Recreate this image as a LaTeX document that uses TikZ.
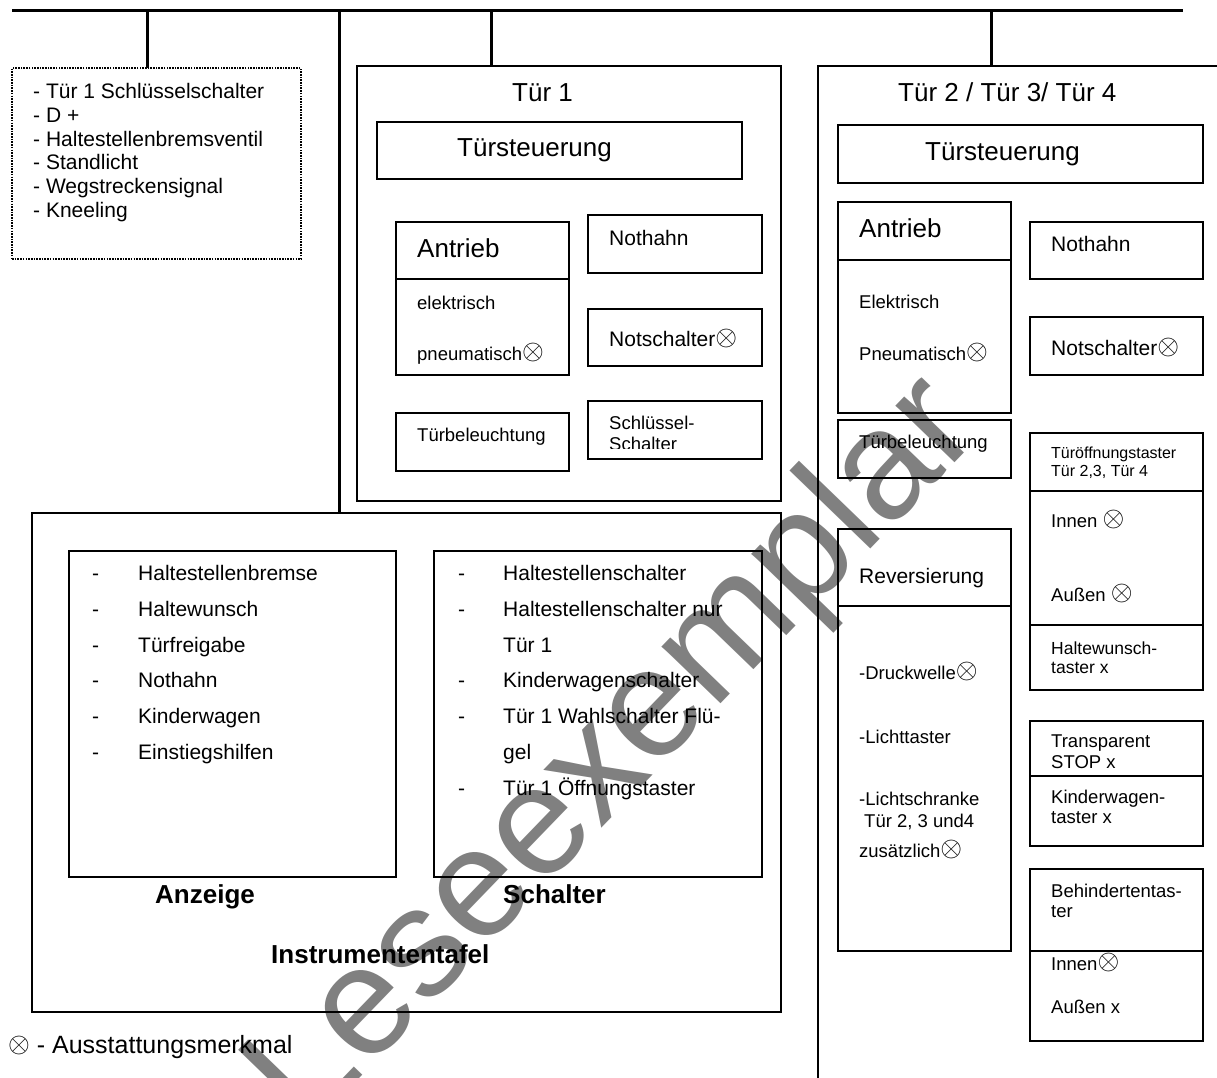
\documentclass[tikz,border=0pt]{standalone}
\usepackage{fontspec}
\setmainfont{Liberation Sans}

\newcommand{\fsBig}{\fontsize{26}{30}\selectfont}
\newcommand{\fsMid}{\fontsize{21}{24}\selectfont}
\newcommand{\fsSmall}{\fontsize{18.5}{21}\selectfont}
\newcommand{\fsTiny}{\fontsize{16}{18}\selectfont}
\newcommand{\xot}{\raisebox{0.8pt}{\scalebox{2.8}{\normalsize$\otimes$}}}

\begin{document}
\begin{tikzpicture}[x=1pt,y=-1pt]
\tikzset{box/.style=
            {draw, line width=1.7pt, inner sep=0pt, outer sep=0pt, anchor=north west},
         frame/.style=
            {draw, line width=1.5pt, inner sep=0pt, outer sep=0pt, anchor=north west},
         dotbox/.style=
            {draw, line width=1.5pt, dash pattern=on 1.6pt off 1.1pt, inner sep=0pt, outer sep=0pt, anchor=north west},
         txt/.style=
            {anchor=base west, inner sep=0pt},
         bus/.style={line width=3.5pt},
         drop/.style={line width=3pt},
         wmark/.style=
            {anchor=base, inner sep=0pt, rotate=46, text=black!50, font=\fontsize{155}{155}\selectfont}}
\useasboundingbox (0,0) rectangle (1217,1077);

% watermark
\node[wmark] (wm) at (645,783) {Leseexemplar};

% bus and drops
\coordinate (busL) at (12,10.5);
\coordinate (busR) at (1183,10.5);
\coordinate (d1) at (147,10.5);
\coordinate (d2) at (339,10.5);
\coordinate (d3) at (491,10.5);
\coordinate (d4) at (991,10.5);

% extra signals
\node[dotbox, minimum width=289pt, minimum height=191pt] (extra) at (12,68) {};
\node[txt, font=\fsMid] (ex1) at (33,98) {- Tür 1 Schlüsselschalter};
\node[txt, font=\fsMid] (ex2) at (33,122) {- D +};
\node[txt, font=\fsMid] (ex3) at (33,146) {- Haltestellenbremsventil};
\node[txt, font=\fsMid] (ex4) at (33,169) {- Standlicht};
\node[txt, font=\fsMid] (ex5) at (33,193) {- Wegstreckensignal};
\node[txt, font=\fsMid] (ex6) at (33,217) {- Kneeling};

% Tuer 1
\node[frame, minimum width=424pt, minimum height=435pt] (tuerA) at (357,66) {};
\node[txt, font=\fsBig] (tuerAt) at (512,101) {Tür 1};
\node[box, minimum width=365pt, minimum height=57pt] (tsA) at (377,122) {};
\node[txt, font=\fsBig] (tsAt) at (457,156) {Türsteuerung};
\node[box, minimum width=173pt, minimum height=57pt] (antA) at (396,222) {};
\node[box, minimum width=173pt, minimum height=96pt] (antAb) at (396,279) {};
\node[txt, font=\fsBig] (antAt) at (417,257) {Antrieb};
\node[txt, font=\fsSmall] (antA1) at (417,309) {elektrisch};
\node[txt, font=\fsSmall] (antA2) at (417,360) {pneumatisch\xot};
\node[box, minimum width=174pt, minimum height=58pt] (notA) at (588,215) {};
\node[txt, font=\fsMid] (notAt) at (609,245) {Nothahn};
\node[box, minimum width=174pt, minimum height=57pt] (nsA) at (588,309) {};
\node[txt, font=\fsMid] (nsAt) at (609,346) {Notschalter\xot};
\node[box, minimum width=173pt, minimum height=58pt] (tbA) at (396,413) {};
\node[txt, font=\fsSmall] (tbAt) at (417,441) {Türbeleuchtung};
\node[box, minimum width=174pt, minimum height=58pt] (ssA) at (588,401) {};
\node[txt, font=\fsSmall] (ssA1) at (609,429) {Schlüssel-};
\begin{scope}
\clip (588,401) rectangle (762,448);
\node[txt, font=\fsSmall] (ssA2) at (609,450) {Schalter};
\end{scope}

% Tuer 2 / 3 / 4
\node[frame, minimum width=450pt, minimum height=1100pt] (tuerB) at (818,66) {};
\node[txt, font=\fsBig] (tuerBt) at (898,101) {Tür 2 / Tür 3/ Tür 4};
\node[box, minimum width=365pt, minimum height=58pt] (tsB) at (838,125) {};
\node[txt, font=\fsBig] (tsBt) at (925,160) {Türsteuerung};
\node[box, minimum width=173pt, minimum height=58pt] (antB) at (838,202) {};
\node[box, minimum width=173pt, minimum height=153pt] (antBb) at (838,260) {};
\node[txt, font=\fsBig] (antBt) at (859,237) {Antrieb};
\node[txt, font=\fsSmall] (antB1) at (859,308) {Elektrisch};
\node[txt, font=\fsSmall] (antB2) at (859,360) {Pneumatisch\xot};
\node[box, minimum width=173pt, minimum height=57pt] (notB) at (1030,222) {};
\node[txt, font=\fsMid] (notBt) at (1051,251) {Nothahn};
\node[box, minimum width=173pt, minimum height=58pt] (nsB) at (1030,317) {};
\node[txt, font=\fsMid] (nsBt) at (1051,355) {Notschalter\xot};
\node[box, minimum width=173pt, minimum height=58pt] (tbB) at (838,420) {};
\node[txt, font=\fsSmall] (tbBt) at (859,448) {Türbeleuchtung};
\node[box, minimum width=173pt, minimum height=58pt] (toB) at (1030,433) {};
\node[box, minimum width=173pt, minimum height=134pt] (toBb) at (1030,491) {};
\node[txt, font=\fsTiny] (toB1) at (1051,458) {Türöffnungstaster};
\node[txt, font=\fsTiny] (toB2) at (1051,476) {Tür 2,3, Tür 4};
\node[txt, font=\fsSmall] (toB3) at (1051,527) {Innen \xot};
\node[txt, font=\fsSmall] (toB4) at (1051,601) {Außen \xot};
\node[box, minimum width=173pt, minimum height=65pt] (hwB) at (1030,625) {};
\node[txt, font=\fontsize{17.5}{20}\selectfont] (hwB1) at (1051,654) {Haltewunsch-};
\node[txt, font=\fontsize{17.5}{20}\selectfont] (hwB2) at (1051,673) {taster x};
\node[box, minimum width=173pt, minimum height=77pt] (revB) at (838,529) {};
\node[box, minimum width=173pt, minimum height=345pt] (revBb) at (838,606) {};
\node[txt, font=\fsMid] (revBt) at (859,583) {Reversierung};
\node[txt, font=\fsSmall] (revB1) at (859,679) {-Druckwelle\xot};
\node[txt, font=\fsSmall] (revB2) at (859,743) {-Lichttaster};
\node[txt, font=\fsSmall] (revB3) at (859,805) {-Lichtschranke};
\node[txt, font=\fsSmall] (revB4) at (864,827) {Tür 2, 3 und4};
\node[txt, font=\fsSmall] (revB5) at (859,857) {zusätzlich\xot};
\node[box, minimum width=173pt, minimum height=55pt] (trB) at (1030,721) {};
\node[txt, font=\fsSmall] (trB1) at (1051,747) {Transparent};
\node[txt, font=\fsSmall] (trB2) at (1051,768) {STOP x};
\node[box, minimum width=173pt, minimum height=70pt] (kwB) at (1030,776) {};
\node[txt, font=\fsSmall] (kwB1) at (1051,803) {Kinderwagen-};
\node[txt, font=\fsSmall] (kwB2) at (1051,823) {taster x};
\node[box, minimum width=173pt, minimum height=82pt] (bhB) at (1030,869) {};
\node[box, minimum width=173pt, minimum height=90pt] (bhBb) at (1030,951) {};
\node[txt, font=\fsSmall] (bhB1) at (1051,897) {Behindertentas-};
\node[txt, font=\fsSmall] (bhB2) at (1051,917) {ter};
\node[txt, font=\fsSmall] (bhB3) at (1051,970) {Innen\xot};
\node[txt, font=\fsSmall] (bhB4) at (1051,1013) {Außen x};

% Instrumententafel
\node[box, minimum width=749pt, minimum height=499pt] (instr) at (32,513) {};
\node[box, minimum width=327pt, minimum height=326pt] (anz) at (69,551) {};
\node[box, minimum width=328pt, minimum height=326pt] (sch) at (434,551) {};
\node[txt, font=\fsMid] (anz1) at (92,580) {\makebox[46pt][l]{-}Haltestellenbremse};
\node[txt, font=\fsMid] (anz2) at (92,616) {\makebox[46pt][l]{-}Haltewunsch};
\node[txt, font=\fsMid] (anz3) at (92,652) {\makebox[46pt][l]{-}Türfreigabe};
\node[txt, font=\fsMid] (anz4) at (92,687) {\makebox[46pt][l]{-}Nothahn};
\node[txt, font=\fsMid] (anz5) at (92,723) {\makebox[46pt][l]{-}Kinderwagen};
\node[txt, font=\fsMid] (anz6) at (92,759) {\makebox[46pt][l]{-}Einstiegshilfen};
\node[txt, font=\fsMid] (sch1) at (458,580) {\makebox[45pt][l]{-}Haltestellenschalter};
\node[txt, font=\fsMid] (sch2) at (458,616) {\makebox[45pt][l]{-}Haltestellenschalter nur};
\node[txt, font=\fsMid] (sch3) at (503,652) {Tür 1};
\node[txt, font=\fsMid] (sch4) at (458,687) {\makebox[45pt][l]{-}Kinderwagenschalter};
\node[txt, font=\fsMid] (sch5) at (458,723) {\makebox[45pt][l]{-}Tür 1 Wahlschalter Flü-};
\node[txt, font=\fsMid] (sch6) at (503,759) {gel};
\node[txt, font=\fsMid] (sch7) at (458,795) {\makebox[45pt][l]{-}Tür 1 Öffnungstaster};
\node[txt, font=\fsBig\bfseries] (anzt) at (155,903) {Anzeige};
\node[txt, font=\fsBig\bfseries] (scht) at (503,903) {Schalter};
\node[txt, font=\fsBig\bfseries] (instrt) at (271,963) {Instrumententafel};

% legend
\node[txt, font=\fontsize{25}{28}\selectfont] (legend) at (8,1053) {\xot\ - Ausstattungsmerkmal};

% connections
\draw[bus] (busL) -- (busR);
\draw[drop] (d1) -- (d1 |- extra.north);
\draw[drop] (d2) -- (d2 |- instr.north);
\draw[drop] (d3) -- (d3 |- tuerA.north);
\draw[drop] (d4) -- (d4 |- tuerB.north);
\end{tikzpicture}
\end{document}
